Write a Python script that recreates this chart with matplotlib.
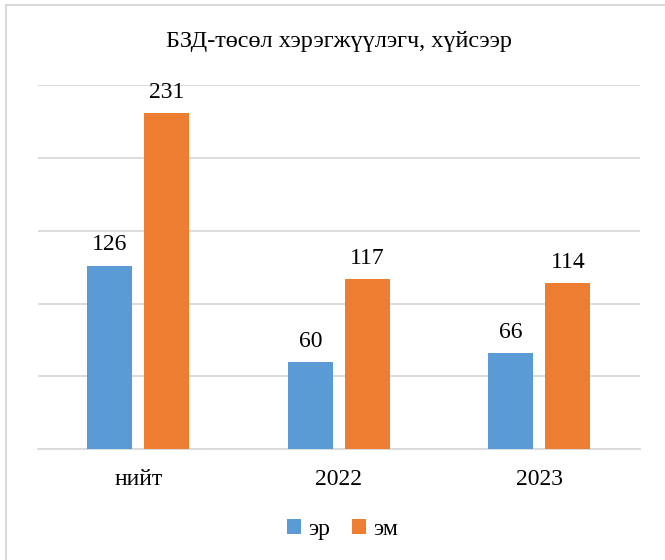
import numpy as np
import matplotlib.pyplot as plt
from matplotlib.patches import Rectangle

categories = ['нийт', '2022', '2023']
er = [126, 60, 66]
em = [231, 117, 114]
series_names = ['эр', 'эм']
title = 'БЗД-төсөл хэрэгжүүлэгч, хүйсээр'

plt.rcParams['font.family'] = ['Liberation Serif', 'DejaVu Serif']

fig = plt.figure(figsize=(6.65, 5.6), dpi=100)
ax = fig.add_axes([0.057, 0.198, 0.905, 0.65])

x = np.arange(len(categories))
w = 0.224
off = 0.142
b1 = ax.bar(x - off, er, w, color='#5B9BD5', label=series_names[0], zorder=3)
b2 = ax.bar(x + off, em, w, color='#ED7D31', label=series_names[1], zorder=3)

for bars in (b1, b2):
    for r in bars:
        ax.text(r.get_x() + r.get_width() / 2, r.get_height() + 7,
                str(int(r.get_height())), ha='center', va='bottom',
                fontsize=17, color='#000000')

ax.set_xlim(-0.5, len(categories) - 0.5)
ax.set_ylim(0, 250)
ax.set_yticks(np.arange(0, 251, 50))
ax.set_yticklabels([])
ax.tick_params(axis='y', length=0)
ax.tick_params(axis='x', length=0, pad=14, labelsize=17)
ax.set_xticks(x)
ax.set_xticklabels(categories)
ax.grid(axis='y', color='#D9D9D9', linewidth=1.3, zorder=0)
for s in ['top', 'right', 'left']:
    ax.spines[s].set_visible(False)
ax.spines['bottom'].set_color('#D9D9D9')
ax.spines['bottom'].set_linewidth(1.3)

fig.text(0.51, 0.925, title, ha='center', va='center', fontsize=17.5)

fig.legend(loc='center', bbox_to_anchor=(0.515, 0.054), ncol=2, frameon=False,
           fontsize=17, handlelength=0.6, handleheight=0.6, handletextpad=0.3,
           columnspacing=0.9)

fig.patches.append(Rectangle((0.009, -0.01), 1.2, 1.001, transform=fig.transFigure,
                             fill=False, edgecolor='#D9D9D9', linewidth=1.5))

fig.savefig('out.png', dpi=100)
